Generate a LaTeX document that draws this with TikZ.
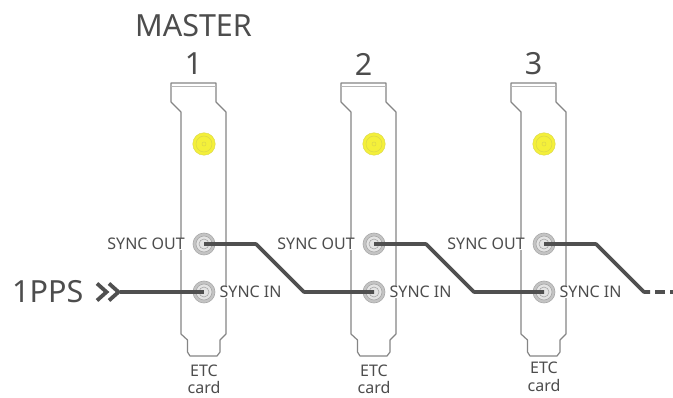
\documentclass[tikz,border=0pt]{standalone}
\usepackage{fontspec}
\setmainfont{Noto Sans}
\definecolor{ink}{HTML}{4D4D4D}
\definecolor{wirec}{HTML}{505050}
\definecolor{plate}{HTML}{858585}
\definecolor{ringc}{HTML}{C4C4C4}
\definecolor{ringd}{HTML}{A8A8A8}
\definecolor{ringi}{HTML}{E4E4E4}
\definecolor{yel}{HTML}{F4F03A}
\definecolor{yeld}{HTML}{DAD64A}
\tikzset{
  x=1pt,y=-1pt,
  plateline/.style={draw=plate,line width=1.2pt,line join=round},
  plateinner/.style={draw=plate!60,line width=0.8pt},
  port/.style={circle,minimum size=22pt,inner sep=0pt,fill=ringc,draw=ringd,line width=.6pt},
  ant/.style={circle,minimum size=22.5pt,inner sep=0pt,fill=yel,draw=yeld,line width=.4pt},
  lab/.style={text=ink,font=\fontsize{16}{18}\selectfont,inner sep=0pt},
  small/.style={text=ink,font=\fontsize{16}{18}\selectfont,inner sep=0pt,align=center},
  big/.style={text=ink,font=\fontsize{30.5}{34}\selectfont,inner sep=0pt},
  wire/.style={draw=wirec,line width=3.6pt,line join=round},
}
\begin{document}
\begin{tikzpicture}
\useasboundingbox (0,0) rectangle (673,398);
\fill[white] (0,0) rectangle (673,398);
\foreach \n/\dx/\cy/\dy in {1/0/371/388,2/170/371/388,3/340/368/386}{
  \begin{scope}[xshift=\dx pt]
    \draw[plateline] (171,83) -- (216,83) -- (216,102) -- (226,112) -- (226,334)
      -- (220,340) -- (220,352) -- (217,356) -- (190,356) -- (187.5,352) -- (187.5,340)
      -- (181,334) -- (181,112) -- (171,102) -- cycle;
    \draw[plateinner] (171,86) -- (216,86);
    \node[ant] (y\n) at (204,144) {};
    \draw[yeld,line width=.5pt] (204,144) circle[radius=8pt] (204,144) circle[radius=2pt];
    \node[port] (o\n) at (204,244) {};
    \node[port] (i\n) at (204,292) {};
    \fill[ringi] (204,244) circle[radius=8pt] (204,292) circle[radius=8pt];
    \draw[ringd,line width=.6pt] (204,244) circle[radius=8pt] (204,292) circle[radius=8pt]
      (204,244) circle[radius=5pt] (204,292) circle[radius=5pt];
    \node[lab,anchor=east,fill=white,inner xsep=1pt] (so\n) at (186,244) {SYNC OUT};
    \node[lab,anchor=west,fill=white,inner xsep=1pt] (si\n) at (218.5,292) {SYNC IN};
    \node[small] (e\n) at (204,\cy) {ETC};
    \node[small] (c\n) at (204,\dy) {card};
    \node[big] (num\n) at (193.5,64) {\n};
  \end{scope}
}
\node[big] (m) at (193.5,26) {MASTER};
\node[big,anchor=west] (pps) at (12,292) {1PPS};
\coordinate (chev) at (120,292);
\draw[wirec,line width=3.8pt,line join=miter] (97,283.5) -- (106.5,292) -- (97,300.5);
\draw[wirec,line width=3.8pt,line join=miter] (109,283.5) -- (118.5,292) -- (109,300.5);
\draw[wire] (chev) -- (i1.center);
\draw[wire] (o1.center) -- (256,244) -- (304,292) -- (i2.center);
\draw[wire] (o2.center) -- (426,244) -- (474,292) -- (i3.center);
\coordinate (end1) at (650,292);
\coordinate (end2) at (673,292);
\draw[wire] (o3.center) -- (596,244) -- (644,292) -- (end1);
\draw[wire,dash pattern=on 10pt off 5pt] (end1)++(5,0) -- (end2);
\end{tikzpicture}
\end{document}
